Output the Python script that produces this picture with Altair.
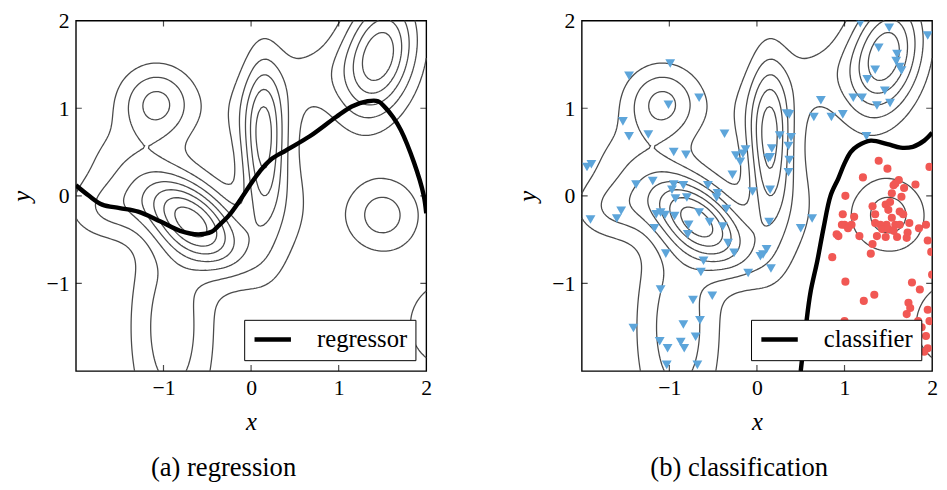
import numpy as np
import pandas as pd
import altair as alt

alt.data_transformers.disable_max_rows()

# ---------------- data ----------------
# density bumps behind the contour lines (centre, spread, tilt, height)
bump_x    = [-1.08, -1.50, 0.14, 0.10, 0.70, 1.46, -0.65, 1.50, 2.31, -1.60, -0.90, 0.35]
bump_y    = [ 1.05,  0.40, 0.60, 0.95, 1.40, 1.60, -0.30, -0.22, -1.47, -0.15, -1.50, -0.10]
bump_sx   = [0.30, 0.35, 0.16, 0.35, 0.35, 0.30, 0.40, 0.30, 0.39, 0.35, 0.34, 0.30]
bump_sy   = [0.30, 0.30, 0.65, 0.35, 0.30, 0.48, 0.37, 0.30, 0.39, 0.25, 0.90, 0.55]
bump_rho  = [0.0, 0.0, 0.0, 0.0, 0.0, 0.25, -0.54, 0.0, 0.0, 0.0, 0.0, 0.0]
bump_peak = [3.3, 1.0, 4.4, 1.2, 1.0, 5.8, 6.8, 2.5, 2.2, 2.0, 2.6, 1.3]
contour_levels = [1, 2, 3, 4, 5, 6, 7]

reg_x = [-2.0, -1.85, -1.7, -1.5, -1.29, -1.04, -0.81, -0.6, -0.45, -0.37, -0.25, -0.14,
         0.0, 0.1, 0.22, 0.4, 0.67, 0.97, 1.15, 1.33, 1.45, 1.53, 1.62, 1.71, 1.86, 1.97, 2.0]
reg_y = [0.12, 0.0, -0.1, -0.14, -0.18, -0.29, -0.40, -0.44, -0.41, -0.34, -0.22, -0.07,
         0.14, 0.28, 0.41, 0.52, 0.68, 0.90, 1.02, 1.08, 1.08, 1.01, 0.90, 0.75, 0.38, 0.01, -0.2]

clf_x = [0.50, 0.56, 0.61, 0.69, 0.76, 0.84, 0.93, 1.00, 1.07, 1.15, 1.30, 1.49, 1.64, 1.78, 1.91, 2.0]
clf_y = [-2.0, -1.48, -1.11, -0.74, -0.37, 0.0, 0.2, 0.37, 0.50, 0.57, 0.63, 0.59, 0.55, 0.56, 0.63, 0.72]

blue_x = [-0.99, -1.46, -0.66, -1.01, -1.53, -1.46, -1.24, -0.37, -0.95, -0.81, -1.89, -1.94,
          -0.24, -0.19, -0.13, -0.16, -0.28, -1.38, -1.19, -0.95, -0.84, -0.97, -0.56, -0.45, -0.05,
          1.18, 1.51, 1.95, 1.39, 1.60, 1.59, 1.63, 1.65, 1.35, 1.26, 1.46, 1.10, 1.20, 1.37, 1.52,
          0.73, 0.34, 0.37, 0.65, 0.85, 0.98, 1.25, 0.26, 0.39, 0.36, 0.17, 0.15, 0.37, 0.36, 0.15, 0.13,
          -1.55, -1.60, -1.90, -1.15, -1.10, -1.05, -0.94, -0.93, -0.80, -0.66, -0.54, -0.78, -0.79,
          -0.39, -0.35, -1.17, -0.46, -0.33, -0.26, -1.04, -0.61, -0.64, -0.10, -1.10, -0.73, -0.51,
          -1.41, -0.84, -0.65, -1.11, -1.02, -0.87, -0.83, -0.70, -1.03, -0.68,
          0.14, 0.50, 0.63, 0.07, 0.11, 0.04, 0.16]
blue_y = [1.51, 1.37, 1.12, 1.04, 0.85, 0.68, 0.70, 0.71, 0.50, 0.47, 0.36, 0.33,
          0.46, 0.39, 0.53, 0.48, 0.24, 0.13, 0.17, 0.13, 0.12, 0.07, 0.12, 0.03, 0.05,
          1.97, 1.92, 1.83, 1.69, 1.62, 1.54, 1.47, 1.43, 1.44, 1.33, 1.20, 1.12, 1.12, 1.03, 1.06,
          1.09, 0.94, 0.93, 0.90, 0.90, 0.93, 0.68, 0.69, 0.67, 0.57, 0.54, 0.44, 0.41, 0.27, 0.07, 0.43,
          -0.17, -0.26, -0.27, -0.21, -0.19, -0.22, -0.23, -0.03, -0.02, -0.19, -0.30, -0.33, -0.44,
          -0.35, -0.15, -0.37, -0.02, -0.54, -0.65, -0.66, -0.74, -0.87, -0.88, -1.07, -1.19, -1.14,
          -1.51, -1.47, -1.42, -1.66, -1.74, -1.67, -1.74, -1.61, -1.93, -1.93,
          -0.30, -0.37, -0.26, -0.67, -0.61, -0.69, -0.83]

red_x = [1.39, 1.49, 1.21, 1.62, 1.56, 1.68, 1.81, 1.97, 1.01, 1.58, 1.54, 1.65,
         1.32, 1.35, 1.47, 1.50, 1.52, 1.63, 1.67, 1.54, 1.48, 1.41, 1.35, 1.43, 1.50, 1.58, 1.63,
         1.74, 1.56, 1.47, 1.37, 1.32, 1.60, 1.72, 1.30, 1.08, 1.93, 1.95, 1.99, 1.00, 0.91, 0.98,
         1.11, 0.97, 1.04, 0.93, 1.17, 1.85, 1.71, 0.86, 2.0, 1.01, 1.77, 1.86, 1.34, 1.22, 1.73,
         1.75, 1.95, 1.71, 1.84, 1.00, 1.88, 1.93, 1.95, 1.91, 1.97]
red_y = [0.40, 0.31, 0.21, 0.18, 0.12, 0.09, 0.13, 0.33, 0.00, 0.14, 0.03, -0.01,
         -0.12, -0.21, -0.10, -0.16, -0.07, -0.18, -0.21, -0.25, -0.33, -0.33, -0.31, -0.38, -0.38,
         -0.33, -0.33, -0.31, -0.40, -0.47, -0.46, -0.55, -0.47, -0.42, -0.66, -0.33, -0.33, -0.51,
         -0.64, -0.33, -0.44, -0.21, -0.24, -0.33, -0.37, -0.46, -0.46, -0.37, -0.48, -0.70, -0.90,
         -0.98, -0.99, -1.07, -1.13, -1.20, -1.22, -1.28, -1.30, -1.35, -1.43, -1.43, -1.50, -1.60,
         -1.74, -1.78, -1.43]

tick_labels = [-1, 0, 1, 2]
inner_ticks = [-1, 0, 1]

# ---------------- contour lines of the bump field ----------------
N = 141
gx = np.linspace(-2, 2, N)
gy = np.linspace(-2, 2, N)
GX, GY = np.meshgrid(gx, gy)
Z = np.zeros_like(GX)
for cx, cy, sx, sy, r, h in zip(bump_x, bump_y, bump_sx, bump_sy, bump_rho, bump_peak):
    dx = (GX - cx) / sx
    dy = (GY - cy) / sy
    Z += h * np.exp(-0.5 * (dx * dx - 2 * r * dx * dy + dy * dy) / (1 - r * r))


def iso_paths(level):
    pts = {}

    def point(key):
        if key in pts:
            return
        t, i, j = key
        if t == "h":
            z0, z1 = Z[i, j], Z[i, j + 1]
            f = (level - z0) / (z1 - z0)
            pts[key] = (gx[j] + f * (gx[j + 1] - gx[j]), gy[i])
        else:
            z0, z1 = Z[i, j], Z[i + 1, j]
            f = (level - z0) / (z1 - z0)
            pts[key] = (gx[j], gy[i] + f * (gy[i + 1] - gy[i]))

    adj = {}

    def link(k1, k2):
        point(k1)
        point(k2)
        adj.setdefault(k1, []).append(k2)
        adj.setdefault(k2, []).append(k1)

    B = Z > level
    for i in range(N - 1):
        for j in range(N - 1):
            a, b, c, d = B[i, j], B[i, j + 1], B[i + 1, j + 1], B[i + 1, j]
            eb, er, et, el = ("h", i, j), ("v", i, j + 1), ("h", i + 1, j), ("v", i, j)
            cross = []
            if a != b:
                cross.append(eb)
            if b != c:
                cross.append(er)
            if c != d:
                cross.append(et)
            if d != a:
                cross.append(el)
            if len(cross) == 2:
                link(cross[0], cross[1])
            elif len(cross) == 4:
                centre = (Z[i, j] + Z[i, j + 1] + Z[i + 1, j + 1] + Z[i + 1, j]) / 4 > level
                if centre == a:
                    link(eb, er)
                    link(et, el)
                else:
                    link(eb, el)
                    link(er, et)
    seen = set()
    paths = []
    starts = [k for k, v in adj.items() if len(v) == 1] + list(adj.keys())
    for s in starts:
        if s in seen:
            continue
        path = [s]
        seen.add(s)
        cur = s
        while True:
            nxt = [n for n in adj[cur] if n not in seen]
            if not nxt:
                if len(adj[cur]) == 2 and s in adj[cur] and len(path) > 2:
                    path.append(s)
                break
            cur = nxt[0]
            seen.add(cur)
            path.append(cur)
        paths.append([pts[k] for k in path])
    return paths


rows = []
pid = 0
for lv in contour_levels:
    for p in iso_paths(lv):
        for k, (px, py) in enumerate(p):
            rows.append({"pid": pid, "k": k, "x": px, "y": py})
        pid += 1
contours = pd.DataFrame(rows)

ticks_v = pd.DataFrame([{"x": t, "y": e} for t in inner_ticks for e in (-2, 2)])
ticks_h = pd.DataFrame([{"x": e, "y": t} for t in inner_ticks for e in (-2, 2)])

reg_df = pd.DataFrame({"x": reg_x, "y": reg_y, "k": range(len(reg_x)), "name": "regressor"})
clf_df = pd.DataFrame({"x": clf_x, "y": clf_y, "k": range(len(clf_x)), "name": "classifier"})
blue_df = pd.DataFrame({"x": blue_x, "y": blue_y})
red_df = pd.DataFrame({"x": red_x, "y": red_y})

FONT = "Liberation Serif, Times New Roman, DejaVu Serif, serif"
minus_expr = "datum.value < 0 ? '\u2212' + abs(datum.value) : datum.label"

X = alt.X("x:Q", scale=alt.Scale(domain=[-2, 2], nice=False, zero=False),
          axis=alt.Axis(values=tick_labels, title="x", labelExpr=minus_expr, labelFlush=False))
Y = alt.Y("y:Q", scale=alt.Scale(domain=[-2, 2], nice=False, zero=False),
          axis=alt.Axis(values=tick_labels, title="y", labelExpr=minus_expr, labelFlush=False,
                        titlePadding=12))


def panel(line_df, name, caption, points, shift):
    cont = alt.Chart(contours).mark_line(color="#4b4b4b", strokeWidth=1.3).encode(
        x=X, y=Y, detail="pid:N", order="k:Q")
    tv = alt.Chart(ticks_v).mark_tick(orient="vertical", size=12, thickness=1.2,
                                      color="black", clip=True).encode(x=X, y=Y)
    th = alt.Chart(ticks_h).mark_tick(orient="horizontal", size=12, thickness=1.2,
                                      color="black", clip=True).encode(x=X, y=Y)
    layers = [cont]
    if points:
        layers.append(alt.Chart(blue_df).mark_point(shape="triangle-down", filled=True, size=100,
                                                    color="#5DA5DA", opacity=1, clip=True).encode(x=X, y=Y))
        layers.append(alt.Chart(red_df).mark_circle(size=68, color="#F15854", opacity=1,
                                                    clip=True).encode(x=X, y=Y))
    line = alt.Chart(line_df).mark_line(strokeWidth=4.5, interpolate="catmull-rom", clip=True).encode(
        x=X, y=Y, order="k:Q",
        color=alt.Color("name:N", scale=alt.Scale(domain=[name], range=["black"]),
                        legend=alt.Legend(title=None, orient="bottom-right", symbolType="stroke",
                                          symbolStrokeWidth=4.5, symbolSize=1369, clipHeight=24,
                                          labelFont=FONT, labelFontSize=25, labelColor="black",
                                          strokeColor="black", fillColor="white",
                                          padding=8, offset=11, labelOffset=24)))
    layers += [line, tv, th]
    return alt.layer(*layers).properties(
        width=356, height=356,
        title=alt.TitleParams(caption, orient="bottom", anchor="middle", dx=shift,
                              font=FONT, fontSize=27, fontWeight="normal", offset=22))


left = panel(reg_df, "regressor", "(a) regression", False, -28)
right = panel(clf_df, "classifier", "(b) classification", True, -18)

chart = alt.hconcat(left, right, spacing=82).resolve_scale(color="independent").properties(
    padding={"left": 0, "top": -3, "right": 0, "bottom": 0}
).configure_view(stroke="black", strokeWidth=1.4).configure_axis(
    domain=False, ticks=False, grid=False,
    labelFont=FONT, labelFontSize=22, labelColor="black", labelPadding=7,
    titleFont=FONT, titleFontSize=25, titleFontStyle="italic", titleFontWeight="normal",
    titleColor="black", titlePadding=11
)

chart.save("out.html", embed_options={"renderer": "svg", "actions": False})
